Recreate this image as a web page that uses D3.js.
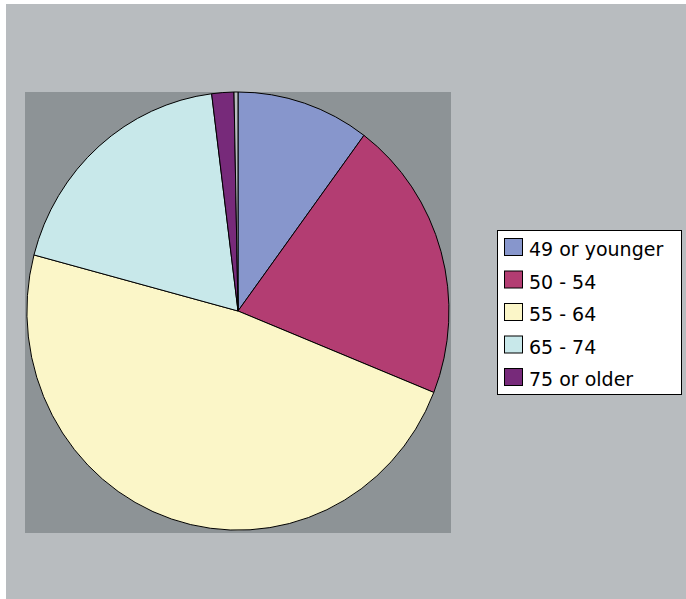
<!DOCTYPE html>
<html>
<head>
<meta charset="utf-8">
<script src="https://cdn.jsdelivr.net/npm/d3@7"></script>
<style>
  body { margin: 0; background: #ffffff; }
  svg { display: block; }
</style>
</head>
<body>
<svg class="chart" width="686" height="599"></svg>
<script>
//------------------------------------------------------------------------------
//Data
//------------------------------------------------------------------------------
var ageGroups = ["49 or younger", "50 - 54", "55 - 64", "65 - 74", "75 or older", ""];
var shares = [10.2, 20.9, 48.1, 18.9, 1.7, 0.3];
var sliceColors = ["#8796cc", "#b33d72", "#fbf6c8", "#c8e8ea", "#772a7a", "#b8bcbf"];
var legendCount = 5;

//------------------------------------------------------------------------------
//Chart
//------------------------------------------------------------------------------
function drawPie() {
  var svg = d3.select(".chart");

  // outer chart area
  svg.append("rect")
    .attr("x", 6).attr("y", 4)
    .attr("width", 680).attr("height", 595)
    .attr("fill", "#b8bcbf");

  // plot area
  svg.append("rect")
    .attr("x", 25).attr("y", 92)
    .attr("width", 426).attr("height", 441)
    .attr("fill", "#8d9396");

  var cx = 238, cy = 311, rx = 211, ry = 219;

  var pie = d3.pie().sort(null);
  var arc = d3.arc().innerRadius(0).outerRadius(1);

  // unit circle scaled into an ellipse
  var g = svg.append("g")
    .attr("transform", "translate(" + cx + "," + cy + ") scale(" + rx + "," + ry + ")");

  g.selectAll("path")
    .data(pie(shares))
    .enter()
    .append("path")
    .attr("d", arc)
    .attr("fill", function (d, i) { return sliceColors[i]; })
    .attr("stroke", "#000")
    .attr("stroke-width", 1)
    .attr("vector-effect", "non-scaling-stroke");

  // legend
  var lg = svg.append("g");
  lg.append("rect")
    .attr("x", 497.5).attr("y", 230.5)
    .attr("width", 184).attr("height", 164)
    .attr("fill", "#fff")
    .attr("stroke", "#000");

  var rows = lg.selectAll("g.item")
    .data(ageGroups.slice(0, legendCount))
    .enter()
    .append("g")
    .attr("class", "item")
    .attr("transform", function (d, i) { return "translate(0," + (i * 32.5) + ")"; });

  rows.append("rect")
    .attr("x", 504.5).attr("y", 238.5)
    .attr("width", 18).attr("height", 17)
    .attr("fill", function (d, i) { return sliceColors[i]; })
    .attr("stroke", "#000");

  rows.append("text")
    .attr("x", 529)
    .attr("y", 256)
    .attr("font-family", "DejaVu Sans, Verdana, sans-serif")
    .attr("font-size", "19px")
    .attr("fill", "#000")
    .text(function (d) { return d; });
}

drawPie();
</script>
</body>
</html>
